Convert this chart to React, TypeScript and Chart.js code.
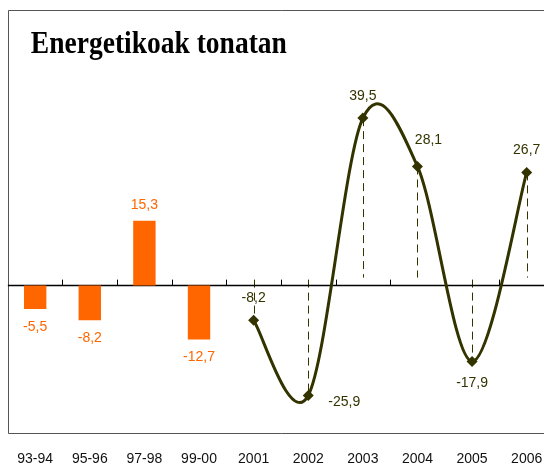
import React, { useEffect, useRef } from "react";
import { Chart, registerables } from "chart.js";

Chart.register(...registerables);

// ---- data ----
const categories = ["93-94", "95-96", "97-98", "99-00", "2001", "2002", "2003", "2004", "2005", "2006"];
const periodValues: (number | null)[] = [-5.5, -8.2, 15.3, -12.7, null, null, null, null, null, null];
const annualValues: (number | null)[] = [null, null, null, null, -8.2, -25.9, 39.5, 28.1, -17.9, 26.7];
const titleText = "Energetikoak tonatan";
const yMin = -35;
const yMax = 65;
const annualLabelPlacement = ["", "", "", "", "above", "right", "above", "aboveRight", "below", "above"];

const ORANGE = "#FF6600";
const OLIVE = "#333300";

const fmt = (v: number) => v.toFixed(1).replace(".", ",");

const decorPlugin = {
  id: "decor",
  beforeDatasetsDraw(chart: any) {
    const { ctx, chartArea: a, scales } = chart;
    const x = scales.x;
    const y = scales.y;
    const y0 = y.getPixelForValue(0);
    ctx.save();
    // frame
    ctx.strokeStyle = "#555555";
    ctx.lineWidth = 1;
    const fl = Math.round(a.left) + 0.5;
    ctx.beginPath();
    ctx.moveTo(a.right, a.top + 0.5);
    ctx.lineTo(fl, a.top + 0.5);
    ctx.lineTo(fl, a.bottom - 0.5);
    ctx.lineTo(a.right, a.bottom - 0.5);
    ctx.stroke();
    // dashed drop lines
    const meta = chart.getDatasetMeta(1);
    ctx.setLineDash([8, 5]);
    ctx.strokeStyle = OLIVE;
    ctx.lineWidth = 1;
    meta.data.forEach((p: any, i: number) => {
      const v = annualValues[i];
      if (v == null) return;
      const px = Math.round(p.x) + 0.5;
      ctx.beginPath();
      if (v >= 0) {
        ctx.moveTo(px, p.y);
        ctx.lineTo(px, y0 - 8);
      } else {
        ctx.moveTo(px, y0 - 6);
        ctx.lineTo(px, p.y);
      }
      ctx.stroke();
    });
    ctx.setLineDash([]);
    // zero line
    ctx.strokeStyle = "#000000";
    ctx.lineWidth = 1.5;
    ctx.beginPath();
    ctx.moveTo(a.left, y0);
    ctx.lineTo(a.right, y0);
    ctx.stroke();
    // tick marks between categories
    ctx.lineWidth = 1;
    for (let i = 1; i < categories.length; i++) {
      const bx = Math.round((x.getPixelForValue(i - 1) + x.getPixelForValue(i)) / 2) + 0.5;
      ctx.beginPath();
      ctx.moveTo(bx, y0 - 6);
      ctx.lineTo(bx, y0);
      ctx.stroke();
    }
    // title
    ctx.fillStyle = "#000000";
    ctx.font = "bold 32px 'Liberation Serif', serif";
    ctx.textAlign = "left";
    ctx.textBaseline = "alphabetic";
    const w = ctx.measureText(titleText).width;
    const sx = 256 / w;
    ctx.translate(a.left + 23, a.top + 42.5);
    ctx.scale(sx, 1);
    ctx.fillText(titleText, 0, 0);
    ctx.restore();
  },
  beforeDatasetDraw(chart: any, args: any) {
    if (args.index !== 1) return;
    const meta = args.meta;
    const line = meta.dataset;
    line.updateControlPoints(chart.chartArea, "x");
    const pts = meta.data.filter((p: any, i: number) => annualValues[i] != null);
    const n = pts.length;
    for (let k = 0; k < n; k++) {
      const prev = pts[Math.max(0, k - 1)];
      const next = pts[Math.min(n - 1, k + 1)];
      const dx = (next.x - prev.x) / 6;
      const dy = (next.y - prev.y) / 6;
      const p = pts[k];
      p.cp1x = p.x - dx;
      p.cp1y = p.y - dy;
      p.cp2x = p.x + dx;
      p.cp2y = p.y + dy;
    }
  },
  afterDatasetsDraw(chart: any) {
    const { ctx } = chart;
    ctx.save();
    ctx.font = "14px 'Liberation Sans', Arial, sans-serif";
    ctx.textAlign = "center";
    ctx.textBaseline = "middle";
    const barMeta = chart.getDatasetMeta(0);
    ctx.fillStyle = ORANGE;
    barMeta.data.forEach((b: any, i: number) => {
      const v = periodValues[i];
      if (v == null) return;
      ctx.fillText(fmt(v), b.x, v >= 0 ? b.y - 16 : b.y + 18);
    });
    const lineMeta = chart.getDatasetMeta(1);
    ctx.fillStyle = OLIVE;
    lineMeta.data.forEach((p: any, i: number) => {
      const v = annualValues[i];
      if (v == null) return;
      let dx = 0;
      let dy = -22;
      const pl = annualLabelPlacement[i];
      if (pl === "right") { dx = 36; dy = 7; }
      else if (pl === "aboveRight") { dx = 11; dy = -26; }
      else if (pl === "below") { dx = 0; dy = 22; }
      ctx.fillText(fmt(v), p.x + dx, p.y + dy);
    });
    ctx.restore();
  },
};

export default function App() {
  const ref = useRef<HTMLCanvasElement | null>(null);
  useEffect(() => {
    if (!ref.current) return;
    const chart = new Chart(ref.current, {
      type: "bar",
      data: {
        labels: categories,
        datasets: [
          {
            type: "bar",
            data: periodValues as any,
            backgroundColor: ORANGE,
            borderWidth: 0,
            barPercentage: 0.41,
            categoryPercentage: 1,
          },
          {
            type: "line",
            data: annualValues as any,
            borderColor: OLIVE,
            borderWidth: 3,
            tension: 0.4,
            pointStyle: "rectRot",
            pointRadius: 5.5,
            pointBackgroundColor: OLIVE,
            pointBorderColor: OLIVE,
            pointBorderWidth: 0,
            spanGaps: false,
          } as any,
        ],
      },
      options: {
        responsive: false,
        animation: false,
        devicePixelRatio: 1,
        layout: { padding: { left: 3.5, top: 10, right: 6, bottom: 0 } },
        plugins: { legend: { display: false }, tooltip: { enabled: false }, title: { display: false } },
        scales: {
          x: {
            offset: true,
            grid: { display: false, drawTicks: false },
            border: { display: false },
            ticks: {
              color: "#111111",
              font: { family: "'Liberation Sans', Arial, sans-serif", size: 14 },
              padding: 17,
              maxRotation: 0,
              autoSkip: false,
            },
            afterFit: (axis: any) => {
              axis.height = 32;
            },
          },
          y: {
            display: false,
            min: yMin,
            max: yMax,
          },
        },
      },
      plugins: [decorPlugin],
    });
    return () => chart.destroy();
  }, []);
  return (
    <div style={{ position: "absolute", left: 0, top: 0, width: 544, height: 466, overflow: "hidden", background: "#ffffff" }}>
      <canvas ref={ref} width={560} height={466} style={{ display: "block" }} />
    </div>
  );
}
